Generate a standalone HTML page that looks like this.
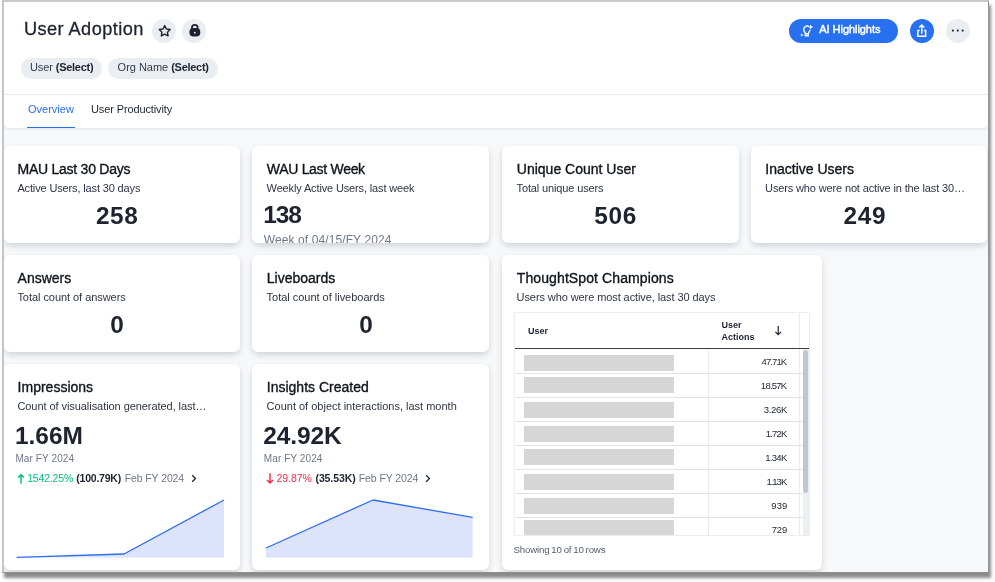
<!DOCTYPE html>
<html lang="en">
<head>
<meta charset="utf-8">
<title>User Adoption</title>
<style>
*{box-sizing:border-box;margin:0;padding:0}
html,body{width:995px;height:582px;overflow:hidden;background:#fff}
body{font-family:"Liberation Sans",sans-serif;color:#1d232f;position:relative;-webkit-font-smoothing:antialiased}
.abs{position:absolute}
.frame{position:absolute;left:2px;top:0;width:987px;height:573px;background:#f6f8fa;border-top:2px solid #c9c9c9;border-left:2px solid #c6c6c6;border-right:1px solid #939393;border-bottom:1px solid #8c8c8c;box-shadow:2px 5px 3px rgba(0,0,0,.46)}
.app{position:absolute;left:0;top:0;width:995px;height:582px;clip-path:inset(2px 7px 10px 4px)}
header.top{position:absolute;left:4px;top:2px;width:984px;height:126px;background:#fff;border-radius:0 0 5px 5px;box-shadow:0 1px 3px rgba(30,40,70,.10)}
h1{position:absolute;left:20px;top:15px;font-size:18.2px;font-weight:400;line-height:24px;letter-spacing:.42px;-webkit-text-stroke:.3px #1d232f;white-space:nowrap;color:#1d232f}
.ibtn{position:absolute;top:17px;width:24px;height:24px;border-radius:50%;background:#eaedf2;display:block}
.ibtn svg{position:absolute;left:0;top:0;width:24px;height:24px;display:block}
.ibtn.blue{background:#2770ef}
.aibtn{position:absolute;left:785px;top:17px;width:109px;height:24px;border-radius:12px;background:#2770ef;color:#fff;font-size:10px;font-weight:700;line-height:24px;white-space:nowrap}
.aibtn svg{position:absolute;left:10px;top:4px;width:16px;height:16px}
.aibtn span{position:absolute;left:30.3px;top:-2px;font-size:11px;font-weight:400;-webkit-text-stroke:.45px #fff;letter-spacing:-.05px}
.chip{position:absolute;top:56px;height:21px;border-radius:11px;background:#eaedf2;font-size:11px;line-height:18.4px;color:#333a4a;white-space:nowrap;padding-left:9px;letter-spacing:-.1px}
.chip b{color:#1d232f;letter-spacing:-.28px}
.rule{position:absolute;left:0;top:92px;width:984px;height:1px;background:#e6e9ef}
nav.tabs a{position:absolute;top:98px;height:18px;font-size:11px;line-height:18px;color:#1d232f;text-decoration:none;white-space:nowrap}
nav.tabs a.on{color:#2770ef}
nav.tabs i{position:absolute;left:23px;top:124.7px;width:48px;height:1.3px;background:#2770ef;display:block}

.card{position:absolute;background:#fff;border-radius:6px;box-shadow:0 3px 7px -1px rgba(16,24,40,.2);overflow:hidden}
.card h2{position:absolute;left:var(--tx);top:13px;font-size:14px;font-weight:400;line-height:20px;white-space:nowrap;color:#10141c;-webkit-text-stroke:.35px #10141c}
.card p.sub{position:absolute;left:calc(var(--tx) - .2px);top:34px;font-size:11px;line-height:16px;white-space:nowrap;color:#2d3445;letter-spacing:-.14px}
.card .num{position:absolute;left:0;right:var(--nr);top:55.5px;text-align:center;font-size:24.4px;font-weight:700;line-height:28px;color:#1d232f;white-space:nowrap}
.card .numl{position:absolute;left:var(--nl);top:57.5px;font-size:24.5px;letter-spacing:-.55px;font-weight:700;line-height:28px;color:#1d232f;white-space:nowrap}
.card .when{position:absolute;left:calc(var(--nl) + .5px);letter-spacing:.1px;font-size:10px;line-height:14px;color:#6f7787;white-space:nowrap}
.card .chg{position:absolute;left:calc(var(--nl) + .8px);top:107px;height:14px;font-size:10.5px;line-height:14px;white-space:nowrap;letter-spacing:-.3px}
.chg svg{position:absolute;top:2px}
.chg span{position:absolute;top:0}
.up{color:#06bf7f}.down{color:#f72c4d}
.chg b{color:#1d232f}
.chg .prev{color:#6f7787}
.card svg.spark{position:absolute;left:0;top:0}

table{border-collapse:collapse}
.tbl{position:absolute;left:12.5px;top:57px;width:296px;height:224px;border:1px solid #eceef4;overflow:hidden;background:#fff}
.tbl .hd{position:absolute;z-index:1;left:0;top:0;width:294px;height:36px;border-bottom:1.5px solid #3a3d45;font-size:9px;font-weight:700;color:#1d232f}
.tbl .hd span{position:absolute;line-height:12px;white-space:nowrap}
.tbl .row{position:absolute;left:0;width:288px;height:24px;border-bottom:1px solid #dde3f0}
.tbl .row .red{position:absolute;left:9px;width:150px;height:16px;background:#d6d6d6;color:transparent;font-size:9px;overflow:hidden}
.tbl .row .val{position:absolute;right:14px;top:4.6px;margin-right:1.2px;font-size:9.5px;line-height:14px;letter-spacing:-.45px;color:#1d232f;white-space:nowrap}
.tbl .vline{position:absolute;top:36px;width:1px;height:190px;background:#e8ebf2}
.tbl .track{position:absolute;left:288px;top:36px;width:7px;height:190px;background:#eceff4}
.tbl .thumb{position:absolute;left:288px;top:37px;width:5px;height:143px;border-radius:3px;background:#c0c6d2}
.foot{position:absolute;left:12px;top:288px;font-size:9.7px;line-height:14px;letter-spacing:-.18px;word-spacing:-.6px;color:#555d6e;white-space:nowrap}
</style>
</head>
<body>
<div class="frame"></div>
<div class="app">
  <header class="top">
    <h1>User Adoption</h1>
    <a class="ibtn" style="left:148px" title="Favorite">
      <svg viewBox="0 0 24 24"><path d="M12.70 6.60 L14.40 9.95 L18.12 10.54 L15.46 13.20 L16.05 16.91 L12.70 15.20 L9.35 16.91 L9.94 13.20 L7.28 10.54 L11.00 9.95z" fill="none" stroke="#1d232f" stroke-width="1.4" stroke-linejoin="round"/></svg>
    </a>
    <a class="ibtn" style="left:178px" title="Private">
      <svg viewBox="0 0 24 24"><path d="M9.9 10.4V8.7a2.9 2.9 0 0 1 5.8 0v1.700" fill="none" stroke="#1d232f" stroke-width="1.800"/><rect x="7.400" y="8.900" width="10.900" height="8.700" rx="4" fill="#1d232f"/><circle cx="12.800" cy="13.700" r=".9" fill="#eaedf2"/></svg>
    </a>
    <a class="aibtn">
      <svg viewBox="0 0 16 16"><path d="M9.300 3.200A3.500 3.500 0 0 0 4.700 6.600c0 1.300.6 2 1.100 2.700.3.500.5.900.5 1.400h3c0-.5.200-.9.500-1.400.4-.6.900-1.200 1.100-2.100" fill="none" stroke="#fff" stroke-width="1.400" stroke-linecap="round"/><path d="M6.300 12.500h3" stroke="#fff" stroke-width="1.800" stroke-linecap="round"/><path d="M11.700 1.400l.8 1.800 1.800.8-1.800.8-.8 1.800-.8-1.800-1.800-.8 1.800-.8z" fill="#fff"/><path d="M2.900 10.300l.5 1.300 1.300.5-1.300.5-.5 1.300-.5-1.300-1.300-.5 1.300-.5z" fill="#fff"/></svg>
      <span>AI Highlights</span>
    </a>
    <a class="ibtn blue" style="left:906px" title="Share">
      <svg viewBox="0 0 24 24"><path d="M9.700 11.450H7.850v5.700h7.800v-5.700h-1.850" fill="none" stroke="#fff" stroke-width="1.500"/><path d="M11.750 14.800V6M9.200 8.500l2.550-2.550 2.550 2.550" fill="none" stroke="#fff" stroke-width="1.500"/></svg>
    </a>
    <a class="ibtn" style="left:942px" title="More">
      <svg viewBox="0 0 24 24"><circle cx="6.850" cy="11.600" r="1.050" fill="#1d232f"/><circle cx="11.750" cy="11.600" r="1.050" fill="#1d232f"/><circle cx="16.700" cy="11.600" r="1.050" fill="#1d232f"/></svg>
    </a>
    <span class="chip" style="left:17px;width:81px">User <b>(Select)</b></span>
    <span class="chip" style="left:104px;width:110px;padding-left:9.6px;letter-spacing:-.02px">Org Name <b>(Select)</b></span>
    <div class="rule"></div>
    <nav class="tabs">
      <a class="on" style="left:24px">Overview</a>
      <a style="left:87px;letter-spacing:-.12px">User Productivity</a>
      <i></i>
    </nav>
  </header>

  <main>
    <section class="card" style="left:4px;top:146px;width:236px;height:97px;--tx:13.6px;--nr:9.8px;--nl:10.9px">
      <h2 style="letter-spacing:-.26px">MAU Last 30 Days</h2>
      <p class="sub">Active Users, last 30 days</p>
      <div class="num" style="letter-spacing:.55px">258</div>
    </section>
    <section class="card" style="left:252px;top:146px;width:237px;height:97px;--tx:14.8px;--nr:9px;--nl:11.3px">
      <h2 style="letter-spacing:-.3px">WAU Last Week</h2>
      <p class="sub">Weekly Active Users, last week</p>
      <div class="numl" style="top:55.3px;letter-spacing:-1.1px">138</div>
      <div class="when" style="top:85.6px;font-size:12px;line-height:16px;color:#6f7787;letter-spacing:.1px">Week of 04/15/FY 2024</div>
    </section>
    <section class="card" style="left:501.5px;top:146px;width:237.5px;height:97px;--tx:15.3px;--nr:9.3px;--nl:11px">
      <h2>Unique Count User</h2>
      <p class="sub">Total unique users</p>
      <div class="num" style="letter-spacing:.75px">506</div>
    </section>
    <section class="card" style="left:751px;top:146px;width:236px;height:97px;--tx:14.3px;--nr:8.4px;--nl:11px">
      <h2>Inactive Users</h2>
      <p class="sub">Users who were not active in the last 30…</p>
      <div class="num" style="letter-spacing:.65px">249</div>
    </section>

    <section class="card" style="left:4px;top:255px;width:236px;height:97px;--tx:13.6px;--nr:9.8px;--nl:10.9px">
      <h2>Answers</h2>
      <p class="sub" style="letter-spacing:-.05px">Total count of answers</p>
      <div class="num">0</div>
    </section>
    <section class="card" style="left:252px;top:255px;width:237px;height:97px;--tx:14.8px;--nr:9px;--nl:11.3px">
      <h2>Liveboards</h2>
      <p class="sub" style="letter-spacing:-.02px">Total count of liveboards</p>
      <div class="num">0</div>
    </section>

    <section class="card" style="left:4px;top:364px;width:236px;height:206px;--tx:13.6px;--nr:9.8px;--nl:10.9px">
      <h2>Impressions</h2>
      <p class="sub" style="letter-spacing:-.06px">Count of visualisation generated, last…</p>
      <div class="numl" style="letter-spacing:0">1.66M</div>
      <div class="when" style="top:88px">Mar FY 2024</div>
      <div class="chg">
        <svg class="up" style="left:1px" width="8" height="12" viewBox="0 0 8 12"><path d="M4 10.800V1.600M1.100 4.500L4 1.600 6.900 4.500" fill="none" stroke="#06bf7f" stroke-width="1.500"/></svg>
        <span class="up" style="left:11.500px;letter-spacing:-.17px">1542.25%</span>
        <span style="left:60.6px;letter-spacing:-.22px"><b>(100.79K)</b></span>
        <span class="prev" style="left:109px;letter-spacing:-.1px">Feb FY 2024</span>
        <svg style="left:174px;top:3px" width="8" height="9" viewBox="0 0 8 9"><path d="M2.200 1.200l3.300 3.300-3.300 3.300" fill="none" stroke="#1d232f" stroke-width="1.300"/></svg>
      </div>
      <svg class="spark" width="237" height="206" viewBox="0 0 237 206"><path d="M12.600 193.400L120 190 220 136V193.600H12.600z" fill="#dce3fb"/><path d="M12.600 193.400L120 190 220 136" fill="none" stroke="#2e6df2" stroke-width="1.300" stroke-linejoin="round"/></svg>
    </section>
    <section class="card" style="left:252px;top:364px;width:237px;height:206px;--tx:14.8px;--nr:9px;--nl:11.3px">
      <h2>Insights Created</h2>
      <p class="sub" style="letter-spacing:0">Count of object interactions, last month</p>
      <div class="numl" style="letter-spacing:-.1px">24.92K</div>
      <div class="when" style="top:88px">Mar FY 2024</div>
      <div class="chg">
        <svg class="down" style="left:1.500px" width="8" height="12" viewBox="0 0 8 12"><path d="M4 .3V10M1 7L4 10 7 7" fill="none" stroke="#f72c4d" stroke-width="1.500"/></svg>
        <span class="down" style="left:12.4px;letter-spacing:-.05px">29.87%</span>
        <span style="left:51.4px;letter-spacing:-.1px"><b>(35.53K)</b></span>
        <span class="prev" style="left:94.6px;letter-spacing:-.08px">Feb FY 2024</span>
        <svg style="left:160px;top:3px" width="8" height="9" viewBox="0 0 8 9"><path d="M2.200 1.200l3.300 3.300-3.300 3.300" fill="none" stroke="#1d232f" stroke-width="1.300"/></svg>
      </div>
      <svg class="spark" width="237" height="206" viewBox="0 0 237 206"><path d="M14 184L121 136 220.600 153.400V193.600H14z" fill="#dce3fb"/><path d="M14 184L121 136 220.600 153.400" fill="none" stroke="#2e6df2" stroke-width="1.300" stroke-linejoin="round"/></svg>
    </section>

    <section class="card" style="left:501.5px;top:255px;width:320.2px;height:315px;--tx:15.3px;--nr:9.3px;--nl:11px">
      <h2 style="letter-spacing:.1px">ThoughtSpot Champions</h2>
      <p class="sub" style="letter-spacing:-.09px">Users who were most active, last 30 days</p>
      <div class="tbl">
        <div class="hd">
          <span style="left:13px;top:12px">User</span>
          <span style="left:206.400px;top:6px">User</span>
          <span style="left:206.400px;top:18px">Actions</span>
          <svg style="position:absolute;left:258.500px;top:12px" width="9" height="11" viewBox="0 0 9 11"><path d="M4.200 1V9.600M1.400 6.800l2.800 2.800 2.800-2.800" fill="none" stroke="#1d232f" stroke-width="1.200"/></svg>
        </div>
        <div class="vline" style="left:193.300px"></div>
        <div class="vline" style="left:284.200px;top:0;height:226px"></div>
        <div class="track"></div>
        <div class="thumb"></div>
        <div class="row" style="top:37px"><span class="red" style="top:5px"></span><span class="val" style="letter-spacing:-.9px;right:15.50px">47.71K</span></div>
        <div class="row" style="top:61px"><span class="red" style="top:3px"></span><span class="val" style="letter-spacing:-.75px;right:15.35px">18.57K</span></div>
        <div class="row" style="top:85px"><span class="red" style="top:4px"></span><span class="val" style="letter-spacing:-.36px;right:14.96px">3.26K</span></div>
        <div class="row" style="top:109px"><span class="red" style="top:4px"></span><span class="val" style="letter-spacing:-.85px;right:15.45px">1.72K</span></div>
        <div class="row" style="top:133px"><span class="red" style="top:3px"></span><span class="val" style="letter-spacing:-.7px;right:15.30px">1.34K</span></div>
        <div class="row" style="top:157px"><span class="red" style="top:4px"></span><span class="val" style="letter-spacing:-1px;right:15.60px">1.13K</span></div>
        <div class="row" style="top:181px"><span class="red" style="top:4px"></span><span class="val" style="letter-spacing:0px;right:14.60px">939</span></div>
        <div class="row" style="top:205px"><span class="red" style="top:2px"></span><span class="val" style="letter-spacing:-.2px;right:14.80px">729</span></div>
      </div>
      <div class="foot">Showing 10 of 10 rows</div>
    </section>
  </main>
</div>
</body>
</html>
